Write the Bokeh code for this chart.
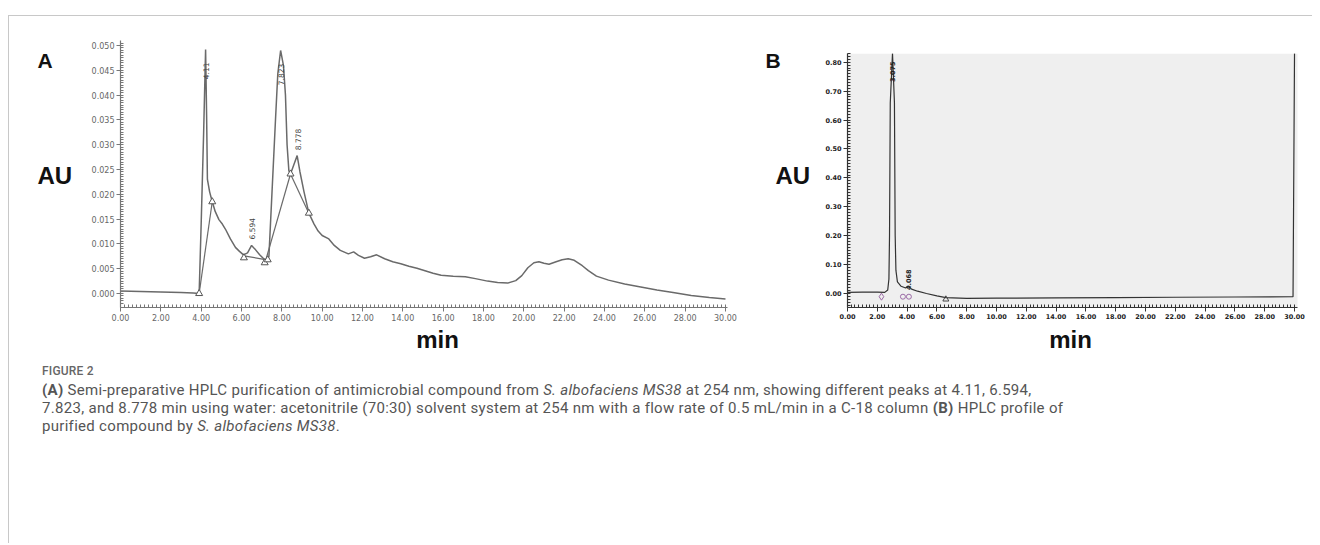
import numpy as np
from bokeh.plotting import figure
from bokeh.models import Range1d, BoxAnnotation, FixedTicker, NumeralTickFormatter, Div
from bokeh.layouts import row, column
from bokeh.embed import file_html
from bokeh.resources import INLINE
from bokeh.core.properties import value

# ---------------- Panel A data (semi-preparative HPLC) ----------------
a_time = [0.0, 1.0, 2.0, 3.0, 3.6, 3.9, 4.0, 4.12, 4.22, 4.27, 4.31, 4.42, 4.55, 4.7, 4.88,
          5.05, 5.2, 5.45, 5.7, 5.9, 6.1, 6.3, 6.5, 6.7, 6.9, 7.1, 7.25, 7.36, 7.69, 7.8,
          7.94, 8.08, 8.18, 8.26, 8.35, 8.43, 8.6, 8.76, 8.9, 9.1, 9.34, 9.6, 9.8, 10.0,
          10.33, 10.6, 10.9, 11.3, 11.56, 11.8, 12.1, 12.4, 12.7, 13.1, 13.5, 13.9, 14.3,
          14.7, 15.1, 15.5, 15.9, 16.5, 17.1, 17.6, 18.2, 18.7, 19.2, 19.6, 19.9, 20.2,
          20.5, 20.75, 21.0, 21.25, 21.6, 21.9, 22.2, 22.5, 22.9, 23.2, 23.6, 24.2, 25.0,
          25.8, 26.6, 27.4, 28.3, 29.2, 30.0]
a_au = [0.0005, 0.0004, 0.0003, 0.0002, 0.0001, 0.0000, 0.0140, 0.0320, 0.0492, 0.0360, 0.0230,
        0.0205, 0.0185, 0.0165, 0.0149, 0.0140, 0.0130, 0.0110, 0.0093, 0.0085, 0.0078, 0.0082,
        0.0097, 0.0088, 0.0078, 0.0070, 0.0066, 0.0075, 0.0354, 0.0443, 0.0490, 0.0460, 0.0400,
        0.0300, 0.0247, 0.0241, 0.0260, 0.0278, 0.0245, 0.0205, 0.0162, 0.0140, 0.0126, 0.0117,
        0.0110, 0.0097, 0.0087, 0.0080, 0.0084, 0.0077, 0.0071, 0.0074, 0.0078, 0.0070, 0.0064,
        0.0060, 0.0055, 0.0051, 0.0046, 0.0041, 0.0037, 0.0035, 0.0034, 0.0030, 0.0025, 0.0022,
        0.0021, 0.0026, 0.0036, 0.0052, 0.0062, 0.0064, 0.0061, 0.0059, 0.0064, 0.0068, 0.0070,
        0.0067, 0.0056, 0.0046, 0.0035, 0.0027, 0.0019, 0.0013, 0.0007, 0.0002, -0.0004,
        -0.0008, -0.0011]
a_drop_time = [[3.9, 4.55], [6.12, 7.25], [7.18, 8.43], [8.43, 9.34]]
a_drop_au = [[0.0, 0.0185], [0.0076, 0.0068], [0.0064, 0.0241], [0.0241, 0.0162]]
a_mark_time = [3.9, 4.55, 6.12, 7.15, 7.3, 8.43, 9.34]
a_mark_au = [0.0, 0.0185, 0.0072, 0.0062, 0.0068, 0.0241, 0.0162]
a_peak_text = ["4.11", "6.594", "7.823", "8.778"]
a_peak_time = [4.22, 6.52, 7.94, 8.78]
a_peak_au = [0.0432, 0.0109, 0.0420, 0.0289]
a_xticks = [0, 2, 4, 6, 8, 10, 12, 14, 16, 18, 20, 22, 24, 26, 28, 30]
a_yticks = [0.000, 0.005, 0.010, 0.015, 0.020, 0.025, 0.030, 0.035, 0.040, 0.045, 0.050]

# ---------------- Panel B data (purified compound) ----------------
b_time = [0.0, 1.0, 2.0, 2.5, 2.7, 2.78, 2.82, 2.87, 3.02, 3.15, 3.2, 3.25, 3.35, 3.6, 3.9,
          4.07, 4.3, 4.7, 5.3, 6.0, 6.6, 8.0, 10.0, 14.0, 18.0, 22.0, 26.0, 29.9, 30.0]
b_au = [0.004, 0.005, 0.005, 0.004, 0.012, 0.05, 0.20, 0.66, 0.831, 0.66, 0.20, 0.08, 0.04,
        0.025, 0.019, 0.026, 0.015, 0.008, 0.0, -0.008, -0.014, -0.017, -0.016, -0.015,
        -0.014, -0.013, -0.012, -0.011, 0.831]
b_diamond_time = [2.28]
b_diamond_au = [-0.011]
b_circle_time = [3.72, 4.12]
b_circle_au = [-0.011, -0.011]
b_tri_time = [6.6]
b_tri_au = [-0.02]
b_peak_text = ["3.075", "4.068"]
b_peak_time = [3.02, 4.1]
b_peak_au = [0.732, 0.012]
b_xticks = [0, 2, 4, 6, 8, 10, 12, 14, 16, 18, 20, 22, 24, 26, 28, 30]
b_yticks = [0.0, 0.1, 0.2, 0.3, 0.4, 0.5, 0.6, 0.7, 0.8]

# panel / axis label texts
panel_letters = ["A", "B"]
y_title = "AU"
x_title = "min"

# ---------------- layout constants (page pixels) ----------------
TOP = 16                 # first pixel row below the grey top rule
HF = 308                 # height of the chart row
HM = 32                  # height of the strip holding the "min" titles
HC = 527 - HF - HM       # caption height
# horizontal cells of the chart row (page x)
LA0, PA0, LB0, PB0, END = 9, 88, 761, 820, 1312
# panel frames on the page
A_L, A_R, A_T, A_B = 120, 727, 40, 307
A_XR, A_YR = (0.0, 30.1), (-0.00282, 0.05101)
B_L, B_R, B_T, B_B = 847, 1297, 53, 307
B_XR, B_YR = (0.0, 30.2), (-0.0484, 0.8304)


def conv(cx, cy, L, R, T, B, xr, yr):
    x = xr[0] + (cx - L) / (R - L) * (xr[1] - xr[0])
    y = yr[0] + (B - cy) / (B - T) * (yr[1] - yr[0])
    return x, y


def finish(p):
    p.grid.visible = False
    p.outline_line_color = None
    p.background_fill_color = "white"
    p.border_fill_color = "white"
    p.frame_align = False
    return p


def make_fig(x0, x1, L, R, T, B, xr, yr):
    p = figure(width=x1 - x0, height=HF, x_range=Range1d(*xr), y_range=Range1d(*yr),
               output_backend="svg", toolbar_location=None, title=None,
               min_border_left=L - x0, min_border_right=x1 - R,
               min_border_top=T - TOP, min_border_bottom=TOP + HF - B)
    return finish(p)


def text_fig(x0, x1, y0, h):
    # a bare canvas whose ranges are page pixels (y downwards)
    p = figure(width=x1 - x0, height=h, x_range=Range1d(x0, x1), y_range=Range1d(y0 + h, y0),
               output_backend="svg", toolbar_location=None, title=None,
               x_axis_type=None, y_axis_type=None,
               min_border_left=0, min_border_right=0, min_border_top=0, min_border_bottom=0)
    return finish(p)


def style_axis(ax, color, lab_color, font_size, bold, ticks, minor, fmt):
    ax.ticker = FixedTicker(ticks=ticks, minor_ticks=minor)
    ax.formatter = NumeralTickFormatter(format=fmt)
    ax.axis_line_color = color
    ax.axis_line_width = 1.2
    ax.major_tick_line_color = color
    ax.minor_tick_line_color = color
    ax.major_tick_out = 4
    ax.major_tick_in = 0
    ax.minor_tick_out = 0
    ax.minor_tick_in = 3
    ax.major_label_standoff = 2
    ax.major_label_text_font = "DejaVu Sans"
    ax.major_label_text_font_size = font_size
    ax.major_label_text_font_style = "bold" if bold else "normal"
    ax.major_label_text_color = lab_color


def bold_text(p, xs, ys, texts, size, align="left"):
    p.text(xs, ys, text=texts, text_font=value("Liberation Sans"), text_font_style="bold",
           text_font_size=size, text_color="#111111", text_align=align,
           text_baseline="middle")


def plain_div(w, h, color=None):
    st = {"background-color": color} if color else {}
    return Div(text="", width=w, height=h, margin=(0, 0, 0, 0), styles=st)


# ---------------- Panel A ----------------
fa = (A_L, A_R, A_T, A_B, A_XR, A_YR)
pa = make_fig(PA0, LB0, *fa)
style_axis(pa.xaxis[0], "#777777", "#666666", "8px", False, a_xticks,
           list(np.arange(0, 30.01, 0.2)), "0.00")
style_axis(pa.yaxis[0], "#777777", "#666666", "8px", False, a_yticks,
           list(np.arange(-0.002, 0.0505, 0.0005)), "0.000")
pa.line(a_time, a_au, line_color="#6a6a6a", line_width=1.5)
pa.multi_line(a_drop_time, a_drop_au, line_color="#6a6a6a", line_width=1.2)
pa.scatter(a_mark_time, a_mark_au, marker="triangle", size=7, fill_color="white",
           line_color="#555555", line_width=1)
pa.text(a_peak_time, a_peak_au, text=a_peak_text, angle=np.pi / 2, text_align="left",
        text_baseline="middle", text_font=value("DejaVu Sans"), text_font_size="7.5px",
        text_color="#444444")

# ---------------- Panel B ----------------
fb = (B_L, B_R, B_T, B_B, B_XR, B_YR)
pb = make_fig(PB0, END, *fb)
gl, gt = conv(821, 53, *fb)
gr, gb = conv(1306, 328, *fb)
pb.add_layout(BoxAnnotation(left=gl, right=gr, top=gt, bottom=gb, fill_color="#efefef",
                            fill_alpha=1.0, line_color=None, level="underlay"))
style_axis(pb.xaxis[0], "#333333", "#222222", "6.5px", True, b_xticks,
           list(np.arange(0, 30.01, 0.25)), "0.00")
style_axis(pb.yaxis[0], "#333333", "#222222", "6.5px", True, b_yticks,
           list(np.arange(-0.04, 0.8305, 0.01)), "0.00")
pb.line(b_time, b_au, line_color="#333333", line_width=1.2)
pb.scatter(b_diamond_time, b_diamond_au, marker="diamond", size=7, fill_color=None,
           line_color="#9b6aa6", line_width=1)
pb.scatter(b_circle_time, b_circle_au, marker="circle", size=5, fill_color=None,
           line_color="#9b6aa6", line_width=1)
pb.scatter(b_tri_time, b_tri_au, marker="triangle", size=6, fill_color=None,
           line_color="#444444", line_width=1)
pb.text(b_peak_time, b_peak_au, text=b_peak_text, angle=np.pi / 2, text_align="left",
        text_baseline="middle", text_font=value("DejaVu Sans"), text_font_size="6.5px",
        text_font_style="bold", text_color="#222222")

# ---------------- big labels: "A"/"B" and "AU" ----------------
la = text_fig(LA0, PA0, TOP, HF)
bold_text(la, [37], [60], [panel_letters[0]], "21px")
bold_text(la, [37], [175], [y_title], "24px")
lb = text_fig(LB0, PB0, TOP, HF)
bold_text(lb, [765], [60], [panel_letters[1]], "21px")
bold_text(lb, [775], [175], [y_title], "24px")

# ---------------- "min" strip ----------------
ms = text_fig(LA0, END, TOP + HF, HM)
bold_text(ms, [437, 1070], [339, 339], [x_title, x_title], "24px", align="center")

# ---------------- Caption ----------------
cap_html = (
    '<div style="font-family:Roboto,sans-serif;color:#555555;padding:7px 0 0 33px;'
    'white-space:nowrap;">'
    '<div style="font-size:12px;line-height:16px;font-weight:500;color:#666666;'
    'letter-spacing:0.2px;">FIGURE 2</div>'
    '<div style="font-size:15px;line-height:18px;margin-top:2px;letter-spacing:0.3px;">'
    '<b>(A)</b> Semi-preparative HPLC purification of antimicrobial compound from '
    '<i>S. albofaciens MS38</i> at 254 nm, showing different peaks at 4.11, 6.594,<br>'
    '7.823, and 8.778 min using water: acetonitrile (70:30) solvent system at 254 nm with a '
    'flow rate of 0.5 mL/min in a C-18 column <b>(B)</b> HPLC profile of<br>'
    'purified compound by <i>S. albofaciens MS38</i>.</div></div>'
)
cap = Div(text=cap_html, width=END - LA0, height=HC, margin=(0, 0, 0, 0))

W_ALL = END - LA0 + 1
top_gap = plain_div(W_ALL + 8, 15)
top_line = row(plain_div(8, 1), plain_div(W_ALL, 1, "#c8c8c8"))
left_gap = plain_div(8, HF + HM + HC)
left_line = plain_div(1, HF + HM + HC, "#c8c8c8")

layout = column(top_gap, top_line,
                row(left_gap, left_line, column(row(la, pa, lb, pb), ms, cap)))

open("out.html", "w").write(file_html(layout, INLINE))
